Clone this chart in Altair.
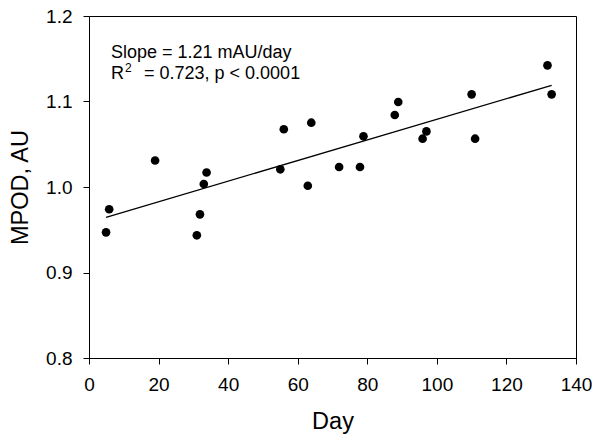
import altair as alt
import pandas as pd

days = [4.9, 5.8, 19.0, 31.0, 31.9, 33.0, 33.8, 55.0, 56.0, 62.9, 63.9, 71.9,
        77.9, 78.9, 87.9, 88.9, 95.9, 97.0, 110.0, 111.0, 131.8, 133.0]
mpod = [0.947, 0.974, 1.031, 0.9435, 0.968, 1.0035, 1.017, 1.0207, 1.0675, 1.0015,
        1.0752, 1.0234, 1.0234, 1.0593, 1.0842, 1.0994, 1.0565, 1.065, 1.1084,
        1.0565, 1.1423, 1.1084]

x_ticks = [0, 20, 40, 60, 80, 100, 120, 140]
y_ticks = [0.8, 0.9, 1.0, 1.1, 1.2]

line1 = "Slope = 1.21 mAU/day"
line2_r = "R"
line2_sup = "2"
line2_rest = "= 0.723, p < 0.0001"

df = pd.DataFrame({"Day": days, "MPOD": mpod})

FONT = "Liberation Sans"
LABEL_SIZE = 19

xenc = alt.X("Day:Q", scale=alt.Scale(domain=[0, 140], nice=False, zero=False),
             axis=alt.Axis(values=x_ticks, title="Day", grid=False, tickSize=6,
                           labelPadding=11, titlePadding=15, labelFontSize=LABEL_SIZE,
                           titleFontSize=23.5, titleFontWeight="normal",
                           labelFont=FONT, titleFont=FONT, domainColor="black",
                           tickColor="black", labelColor="black", titleColor="black",
                           labelFlush=False))
yenc = alt.Y("MPOD:Q", scale=alt.Scale(domain=[0.8, 1.2], nice=False, zero=False),
             axis=alt.Axis(values=y_ticks, format=".1f", title="MPOD, AU", grid=False,
                           tickSize=6, labelPadding=11, titlePadding=13,
                           labelFontSize=LABEL_SIZE, titleFontSize=23.5,
                           titleFontWeight="normal", labelFont=FONT, titleFont=FONT,
                           domainColor="black", tickColor="black", labelColor="black",
                           titleColor="black", labelFlush=False))

base = alt.Chart(df)
points = base.mark_circle(size=75, color="black", opacity=1).encode(x=xenc, y=yenc)
fit = base.transform_regression("Day", "MPOD").mark_line(color="black", strokeWidth=1.3).encode(
    x="Day:Q", y="MPOD:Q")

t1 = alt.Chart(pd.DataFrame({"t": [line1]})).mark_text(
    align="left", baseline="alphabetic", fontSize=18, font=FONT, color="black"
).encode(text="t:N", x=alt.value(22), y=alt.value(42))
t2 = alt.Chart(pd.DataFrame({"t": [line2_r]})).mark_text(
    align="left", baseline="alphabetic", fontSize=18, font=FONT, color="black"
).encode(text="t:N", x=alt.value(22), y=alt.value(63))
t3 = alt.Chart(pd.DataFrame({"t": [line2_sup]})).mark_text(
    align="left", baseline="alphabetic", fontSize=12, font=FONT, color="black"
).encode(text="t:N", x=alt.value(36), y=alt.value(56))
t4 = alt.Chart(pd.DataFrame({"t": [line2_rest]})).mark_text(
    align="left", baseline="alphabetic", fontSize=18, font=FONT, color="black"
).encode(text="t:N", x=alt.value(55), y=alt.value(63))

chart = alt.layer(points, fit, t1, t2, t3, t4).properties(
    width=487, height=342,
    autosize=alt.AutoSizeParams(type="none"),
    padding={"left": 81, "top": 8, "right": 16, "bottom": 78},
).configure(background="white").configure_view(stroke="black", strokeWidth=1)

chart.save("out.html", embed_options={"renderer": "svg", "actions": False})
